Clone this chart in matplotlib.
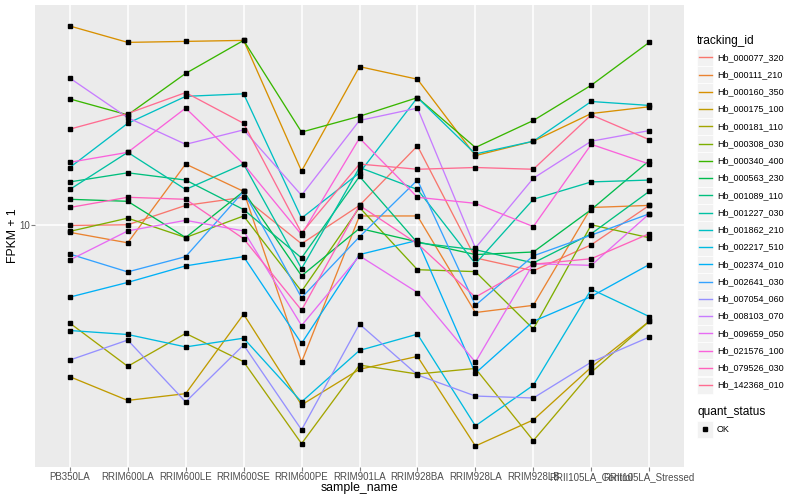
import matplotlib
matplotlib.use('Agg')
import matplotlib.pyplot as plt
from matplotlib.patches import Rectangle
from matplotlib.lines import Line2D
from matplotlib.transforms import Affine2D
from matplotlib.ticker import NullLocator

plt.rcParams['font.family'] = ['Liberation Sans', 'DejaVu Sans']

samples = ['PB350LA', 'RRIM600LA', 'RRIM600LE', 'RRIM600SE', 'RRIM600PE',
           'RRIM901LA', 'RRIM928BA', 'RRIM928LA', 'RRIM928LB',
           'RRII105LA_Control', 'RRII105LA_Stressed']

tracking_ids = ['Hb_000077_320', 'Hb_000111_210', 'Hb_000160_350', 'Hb_000175_100',
                'Hb_000181_110', 'Hb_000308_030', 'Hb_000340_400', 'Hb_000563_230',
                'Hb_001089_110', 'Hb_001227_030', 'Hb_001862_210', 'Hb_002217_510',
                'Hb_002374_010', 'Hb_002641_030', 'Hb_007054_060', 'Hb_008103_070',
                'Hb_009659_050', 'Hb_021576_100', 'Hb_079526_030', 'Hb_142368_010']

# FPKM + 1 per gene, in sample order
hb_000077_320 = [9.97, 10.0, 10.9, 11.3, 9.19, 10.9, 14.2, 8.63, 8.15, 9.15, 10.9]
hb_000111_210 = [9.67, 9.23, 13.1, 11.6, 5.43, 10.4, 10.4, 6.77, 6.99, 10.8, 10.9]
hb_000160_350 = [24.2, 22.5, 22.6, 22.7, 12.7, 20.2, 19.1, 13.6, 14.5, 16.4, 16.9]
hb_000175_100 = [5.09, 4.58, 4.72, 6.72, 4.49, 5.26, 5.57, 3.74, 4.20, 5.31, 6.51]
hb_000181_110 = [6.46, 5.33, 6.17, 5.44, 3.78, 5.36, 5.15, 5.28, 3.83, 5.19, 6.51]
hb_000308_030 = [9.71, 10.3, 9.45, 10.4, 7.44, 10.8, 8.19, 8.12, 6.29, 10.0, 9.44]
hb_000340_400 = [17.5, 16.3, 19.6, 22.7, 15.1, 16.2, 17.6, 14.1, 15.9, 18.6, 22.5]
hb_000563_230 = [11.2, 11.1, 9.45, 11.6, 7.97, 9.84, 9.27, 8.76, 8.86, 10.7, 13.3]
hb_001089_110 = [12.1, 12.6, 12.2, 10.7, 8.63, 12.4, 9.23, 8.95, 8.44, 9.61, 11.6]
hb_001227_030 = [11.7, 13.8, 11.7, 13.1, 8.23, 12.9, 11.7, 8.41, 11.2, 12.1, 12.2]
hb_001862_210 = [12.9, 15.7, 17.7, 17.9, 10.3, 12.6, 17.6, 13.7, 14.5, 17.3, 17.0]
hb_002217_510 = [6.25, 6.14, 5.81, 6.04, 4.55, 5.72, 6.15, 4.09, 4.90, 7.51, 6.65]
hb_002374_010 = [7.25, 7.74, 8.33, 8.68, 5.90, 8.76, 9.33, 5.17, 6.51, 7.27, 8.38]
hb_002641_030 = [8.78, 8.11, 8.68, 11.6, 7.23, 9.48, 12.2, 6.99, 8.71, 9.55, 10.5]
hb_007054_060 = [5.48, 5.99, 4.55, 5.86, 4.02, 6.43, 5.13, 4.67, 4.63, 5.43, 6.07]
hb_008103_070 = [19.2, 16.1, 14.3, 15.25, 11.4, 15.9, 16.8, 9.02, 12.3, 14.5, 15.2]
hb_009659_050 = [8.55, 9.73, 10.2, 9.73, 6.39, 8.71, 7.40, 5.43, 8.41, 8.35, 10.5]
hb_021576_100 = [13.2, 13.8, 16.8, 13.1, 9.57, 14.7, 11.3, 11.0, 9.92, 14.3, 13.1]
hb_079526_030 = [10.8, 11.3, 11.2, 9.40, 6.84, 10.9, 9.19, 7.25, 8.39, 8.60, 9.61]
hb_142368_010 = [15.3, 16.4, 18.0, 15.7, 9.64, 13.1, 12.8, 12.9, 12.8, 16.3, 14.6]

series = [hb_000077_320, hb_000111_210, hb_000160_350, hb_000175_100, hb_000181_110,
          hb_000308_030, hb_000340_400, hb_000563_230, hb_001089_110, hb_001227_030,
          hb_001862_210, hb_002217_510, hb_002374_010, hb_002641_030, hb_007054_060,
          hb_008103_070, hb_009659_050, hb_021576_100, hb_079526_030, hb_142368_010]

# ggplot hue palette, 20 levels
colors = ['#F8766D', '#EA8331', '#D89000', '#C09B00', '#A3A500', '#7CAE00', '#39B600',
          '#00BB4E', '#00BF7D', '#00C1A3', '#00BFC4', '#00BAE0', '#00B0F6', '#35A2FF',
          '#9590FF', '#C77CFF', '#E76BF3', '#FA62DB', '#FF62BC', '#FF6C91']

quant_status = ['OK']

W, H = 800, 500
fig = plt.figure(figsize=(W / 100, H / 100), dpi=100)
ax = fig.add_axes([35 / W, 1 - 467 / H, (684 - 35) / W, (467 - 5) / H])
ax.set_facecolor('#EBEBEB')
for s in ax.spines.values():
    s.set_visible(False)

x = list(range(len(samples)))
for vals, col in zip(series, colors):
    ax.plot(x, vals, color=col, lw=0.95, zorder=2)
for vals in series:
    ax.plot(x, vals, 's', color='black', ms=2.2, zorder=3, lw=0)

ax.set_yscale('log')
ax.margins(y=0.05)
ax.set_xlim(-0.6, len(samples) - 1 + 0.6)
ax.yaxis.set_minor_locator(NullLocator())
ax.set_yticks([10])
ax.set_yticklabels(['10'])
ax.set_xticks(x)
ax.set_xticklabels(samples)
ax.grid(True, color='white', lw=1.1, zorder=0)
ax.set_axisbelow(True)
ax.tick_params(length=3, width=0.8, color='#7F7F7F', labelcolor='#4D4D4D',
               labelsize=7.0, pad=0.8)
ax.set_xlabel('sample_name', fontsize=8.8, va='center')
ax.set_ylabel('FPKM + 1', fontsize=8.8, va='center')
ax.xaxis.set_label_coords(0.5, -21 / 462)
ax.yaxis.set_label_coords(-22 / 649, 0.5)

# legends, laid out in pixel coordinates
tr = Affine2D().scale(1 / W, -1 / H).translate(0, 1) + fig.transFigure
fig.text(697, 41, 'tracking_id', transform=tr, fontsize=8.6, va='center')
for i, (name, col) in enumerate(zip(tracking_ids, colors)):
    yc = 57.3 + i * 17.25
    fig.patches.append(Rectangle((697, yc - 8.5), 16, 17, transform=tr,
                                 fc='#F2F2F2', ec='white', lw=0.5))
    fig.lines.append(Line2D([698.5, 711.5], [yc, yc], transform=tr, color=col, lw=1.0))
    fig.text(717, yc, name, transform=tr, fontsize=6.5, va='center')

fig.text(697, 412, 'quant_status', transform=tr, fontsize=8.6, va='center')
for i, q in enumerate(quant_status):
    yc = 429 + i * 17.25
    fig.patches.append(Rectangle((697, yc - 8.5), 16, 17, transform=tr,
                                 fc='#F2F2F2', ec='white', lw=0.5))
    fig.lines.append(Line2D([705], [yc], transform=tr, marker='s', color='black',
                            ms=2.2, lw=0))
    fig.text(717, yc, q, transform=tr, fontsize=6.5, va='center')

fig.savefig('out.png', dpi=100)
